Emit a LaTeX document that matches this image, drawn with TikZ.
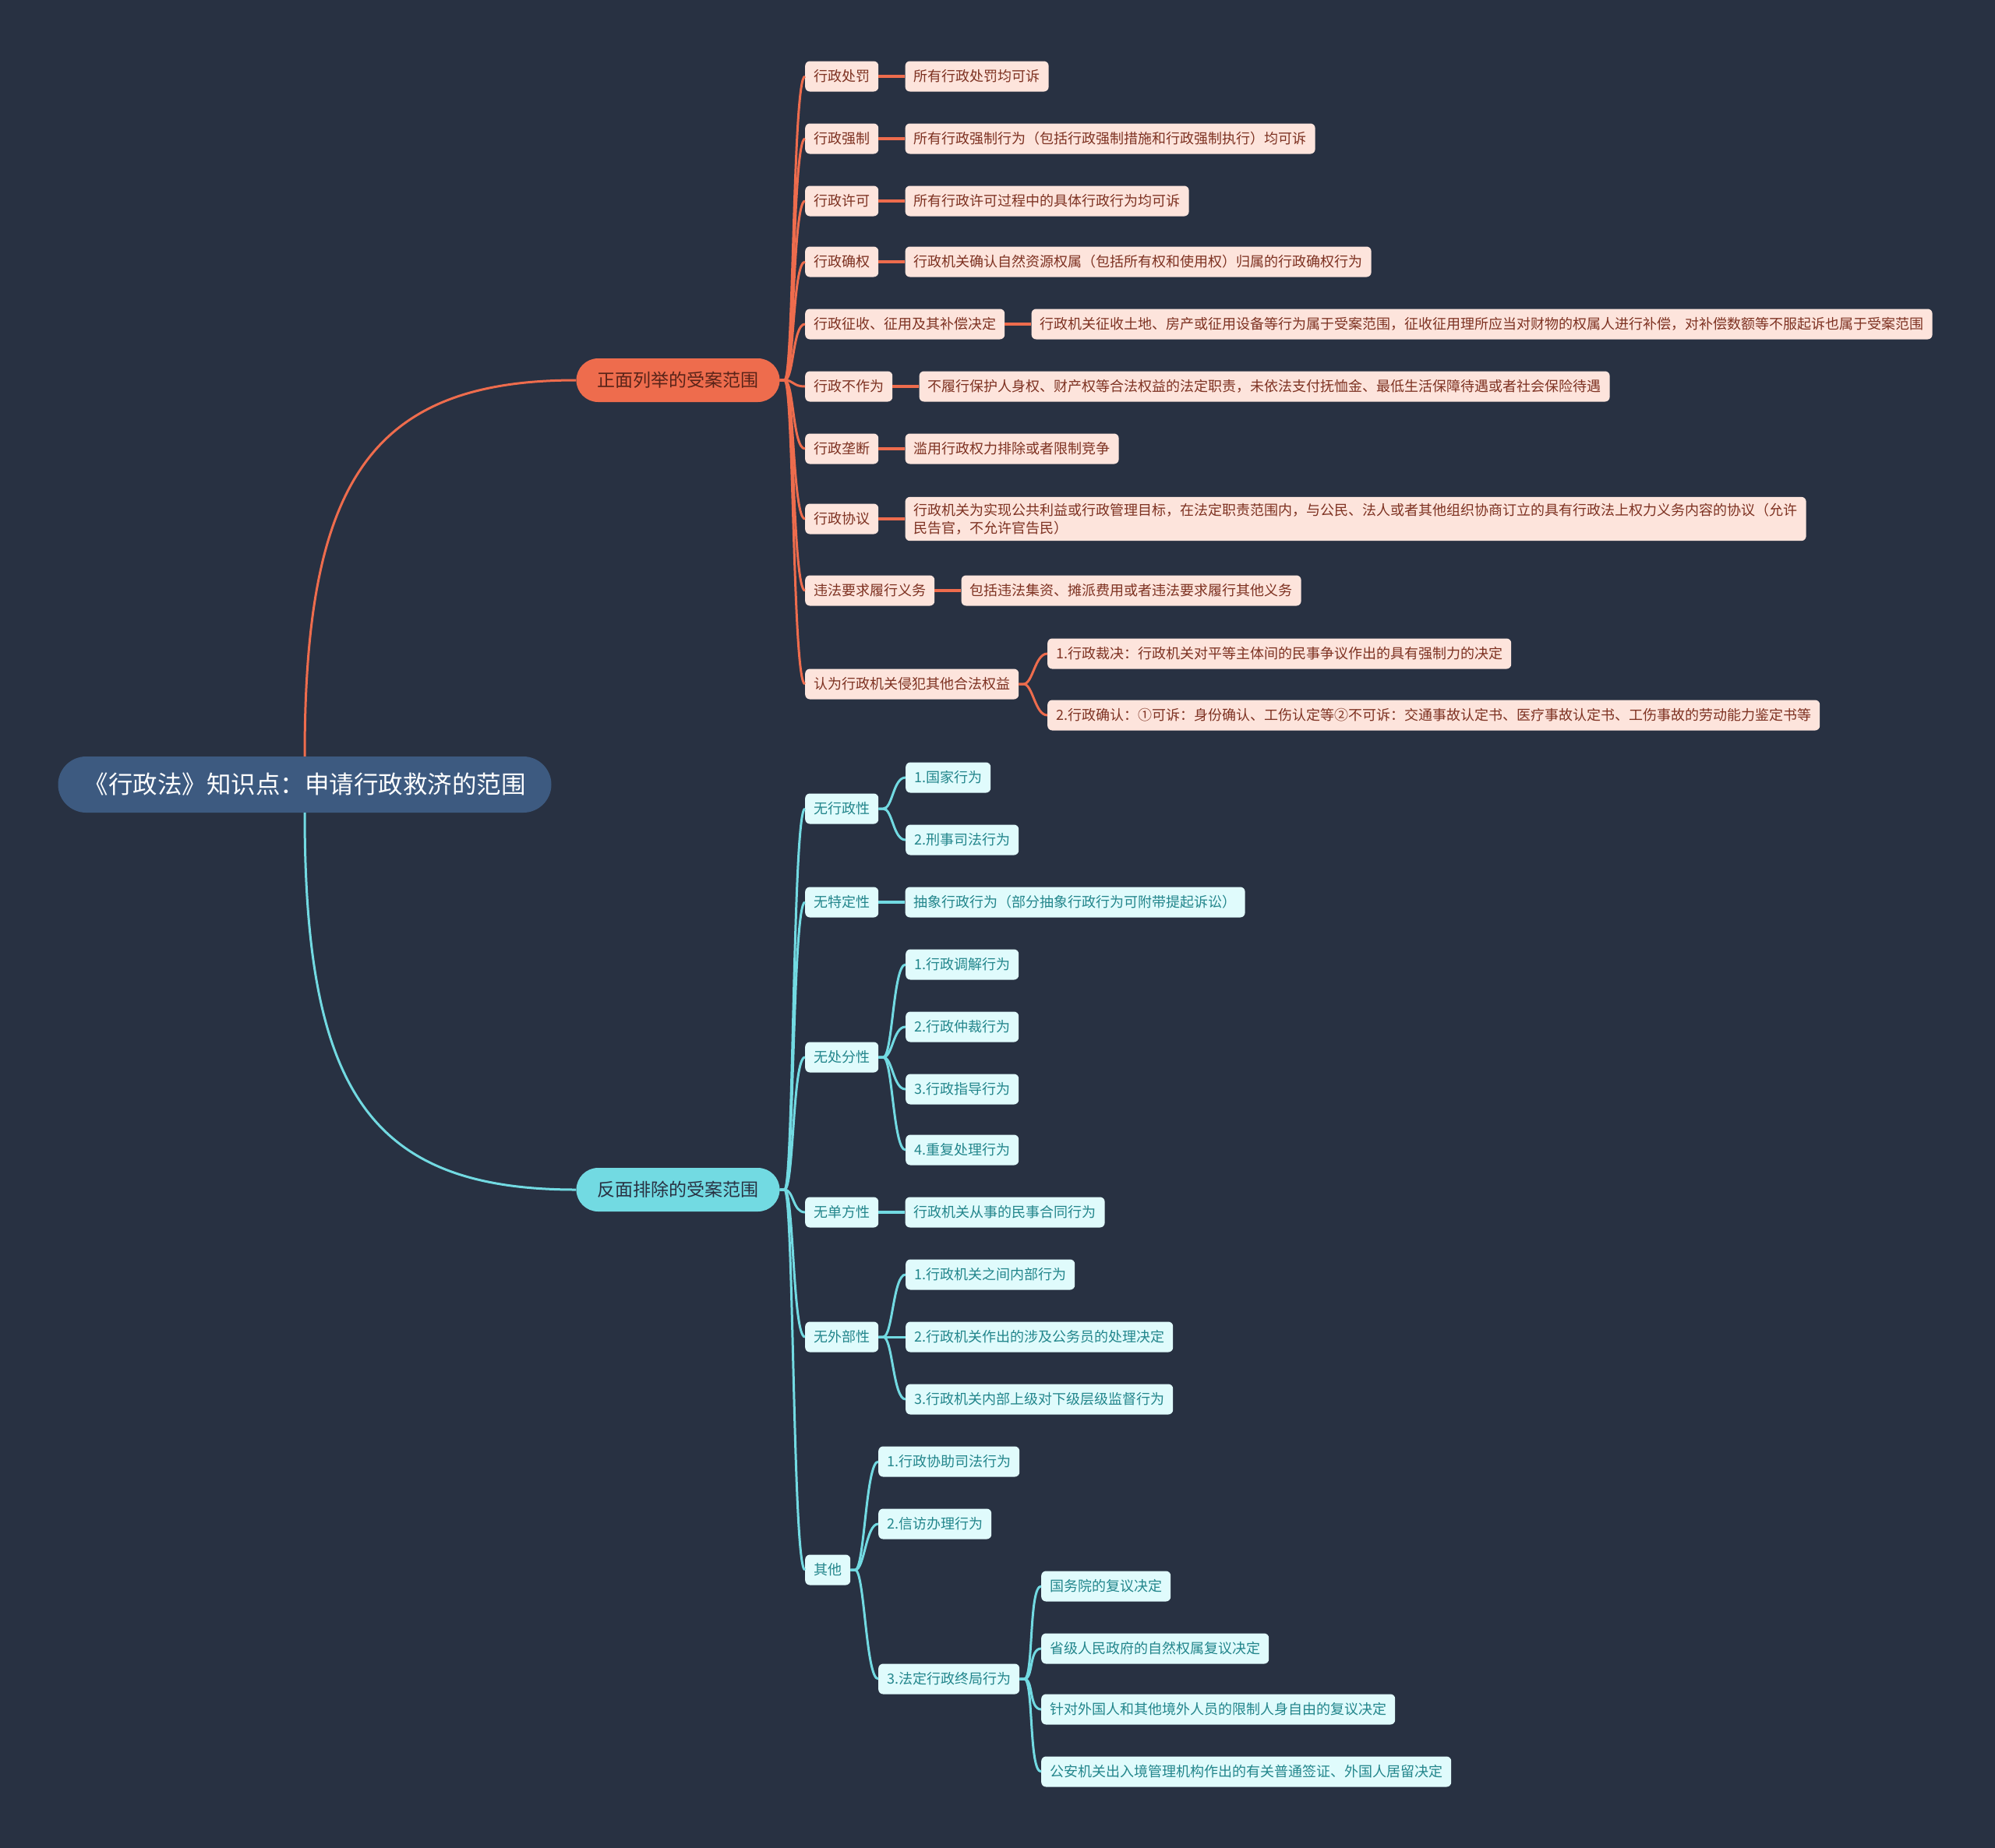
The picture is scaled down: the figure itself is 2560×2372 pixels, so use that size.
\documentclass[tikz,border=0pt]{standalone}
\usepackage{fontspec}
\setmainfont{Noto Sans CJK SC}
\usetikzlibrary{positioning}
\definecolor{bgnavy}{HTML}{283142}
\definecolor{rootblue}{HTML}{3D5A80}
\definecolor{posred}{HTML}{EE6C4D}
\definecolor{pospale}{HTML}{FDE4DC}
\definecolor{postext}{HTML}{7E3222}
\definecolor{negcyan}{HTML}{72DAE2}
\definecolor{negpale}{HTML}{E0FBFC}
\definecolor{negtext}{HTML}{23868C}

\tikzset{
  card/.style={rounded corners=6pt, minimum height=39pt, inner xsep=11pt, inner ysep=8pt,
    anchor=west, font=\fontsize{18pt}{23pt}\selectfont},
  itemp/.style={card, fill=pospale, text=postext},
  itemn/.style={card, fill=negpale, text=negtext},
  elbow/.style={to path={(\tikztostart) -- ++(6,0) .. controls +(12,0) and ([xshift=-16pt]\tikztotarget) .. (\tikztotarget)}},
  linkp/.style={draw=posred, line width=3pt, elbow},
  linkn/.style={draw=negcyan, line width=3pt, elbow},
  thick link/.style={line width=4pt}
}

\begin{document}
\begin{tikzpicture}[x=1pt, y=-1pt]
    \fill[bgnavy] (0,0) rectangle (2560,2372);

    % Root & main branches
    \node[fill=rootblue, text=white, rounded corners=36pt, minimum height=72pt, inner xsep=33pt,
      font=\fontsize{31.5pt}{36pt}\selectfont] (root) at (391,1007) {《行政法》知识点：申请行政救济的范围};
    \node[fill=posred, text=postext!70!black, rounded corners=28pt, minimum height=56pt, inner xsep=27pt,
      font=\fontsize{23pt}{28pt}\selectfont] (b1) at (870,488) {正面列举的受案范围};
    \node[fill=negcyan, text=bgnavy, rounded corners=28pt, minimum height=56pt, inner xsep=27pt,
      font=\fontsize{23pt}{28pt}\selectfont] (b2) at (870,1527) {反面排除的受案范围};

    \draw[posred, line width=3pt] (root.north) .. controls +(0,-351) and +(-265,0) .. (b1.west);
    \draw[negcyan, line width=3pt] (root.south) .. controls +(0,357) and +(-265,0) .. (b2.west);

    % Positive list
    \node[itemp] (p1) at (1033,98) {行政处罚};
    \node[itemp, right=34pt of p1] (p1d) {所有行政处罚均可诉};
    \node[itemp] (p2) at (1033,178) {行政强制};
    \node[itemp, right=34pt of p2] (p2d) {所有行政强制行为（包括行政强制措施和行政强制执行）均可诉};
    \node[itemp] (p3) at (1033,258) {行政许可};
    \node[itemp, right=34pt of p3] (p3d) {所有行政许可过程中的具体行政行为均可诉};
    \node[itemp] (p4) at (1033,336) {行政确权};
    \node[itemp, right=34pt of p4] (p4d) {行政机关确认自然资源权属（包括所有权和使用权）归属的行政确权行为};
    \node[itemp] (p5) at (1033,416) {行政征收、征用及其补偿决定};
    \node[itemp, right=34pt of p5] (p5d) {行政机关征收土地、房产或征用设备等行为属于受案范围，征收征用理所应当对财物的权属人进行补偿，对补偿数额等不服起诉也属于受案范围};
    \node[itemp] (p6) at (1033,496) {行政不作为};
    \node[itemp, right=34pt of p6] (p6d) {不履行保护人身权、财产权等合法权益的法定职责，未依法支付抚恤金、最低生活保障待遇或者社会保险待遇};
    \node[itemp] (p7) at (1033,576) {行政垄断};
    \node[itemp, right=34pt of p7] (p7d) {滥用行政权力排除或者限制竞争};
    \node[itemp] (p8) at (1033,666) {行政协议};
    \node[itemp, right=34pt of p8, align=left] (p8d) {行政机关为实现公共利益或行政管理目标，在法定职责范围内，与公民、法人或者其他组织协商订立的具有行政法上权力义务内容的协议（允许\\民告官，不允许官告民）};
    \node[itemp] (p9) at (1033,758) {违法要求履行义务};
    \node[itemp, right=34pt of p9] (p9d) {包括违法集资、摊派费用或者违法要求履行其他义务};
    \node[itemp] (p10) at (1033,878) {认为行政机关侵犯其他合法权益};
    \node[itemp] (p10a) at (1344,839) {1.行政裁决：行政机关对平等主体间的民事争议作出的具有强制力的决定};
    \node[itemp] (p10b) at (1344,918) {2.行政确认：①可诉：身份确认、工伤认定等②不可诉：交通事故认定书、医疗事故认定书、工伤事故的劳动能力鉴定书等};

    \foreach \c in {p1,p2,p3,p4,p5,p6,p7,p8,p9,p10}
      \draw[linkp] (b1.east) to (\c.west);
    \foreach \c in {p1,p2,p3,p4,p5,p6,p7,p8,p9}
      \draw[linkp, thick link] (\c.east) to (\c d.west);
    \draw[linkp] (p10.east) to (p10a.west);
    \draw[linkp] (p10.east) to (p10b.west);

    % Negative list
    \node[itemn] (n1) at (1033,1038) {无行政性};
    \node[itemn] (n1a) at (1162,998) {1.国家行为};
    \node[itemn] (n1b) at (1162,1078) {2.刑事司法行为};
    \node[itemn] (n2) at (1033,1158) {无特定性};
    \node[itemn, right=34pt of n2] (n2d) {抽象行政行为（部分抽象行政行为可附带提起诉讼）};
    \node[itemn] (n3) at (1033,1357) {无处分性};
    \node[itemn] (n3a) at (1162,1238) {1.行政调解行为};
    \node[itemn] (n3b) at (1162,1318) {2.行政仲裁行为};
    \node[itemn] (n3c) at (1162,1398) {3.行政指导行为};
    \node[itemn] (n3d) at (1162,1476) {4.重复处理行为};
    \node[itemn] (n4) at (1033,1556) {无单方性};
    \node[itemn, right=34pt of n4] (n4d) {行政机关从事的民事合同行为};
    \node[itemn] (n5) at (1033,1716) {无外部性};
    \node[itemn] (n5a) at (1162,1636) {1.行政机关之间内部行为};
    \node[itemn] (n5b) at (1162,1716) {2.行政机关作出的涉及公务员的处理决定};
    \node[itemn] (n5c) at (1162,1796) {3.行政机关内部上级对下级层级监督行为};
    \node[itemn] (n6) at (1033,2015) {其他};
    \node[itemn] (n6a) at (1127,1876) {1.行政协助司法行为};
    \node[itemn] (n6b) at (1127,1956) {2.信访办理行为};
    \node[itemn] (n6c) at (1127,2155) {3.法定行政终局行为};
    \node[itemn] (n6c1) at (1336,2036) {国务院的复议决定};
    \node[itemn] (n6c2) at (1336,2116) {省级人民政府的自然权属复议决定};
    \node[itemn] (n6c3) at (1336,2194) {针对外国人和其他境外人员的限制人身自由的复议决定};
    \node[itemn] (n6c4) at (1336,2274) {公安机关出入境管理机构作出的有关普通签证、外国人居留决定};

    \foreach \c in {n1,n2,n3,n4,n5,n6}
      \draw[linkn] (b2.east) to (\c.west);
    \foreach \c in {n2,n4}
      \draw[linkn, thick link] (\c.east) to (\c d.west);
    \foreach \p/\c in {n1/n1a, n1/n1b, n3/n3a, n3/n3b, n3/n3c, n3/n3d,
        n5/n5a, n5/n5b, n5/n5c, n6/n6a, n6/n6b, n6/n6c, n6c/n6c1, n6c/n6c2, n6c/n6c3, n6c/n6c4}
      \draw[linkn] (\p.east) to (\c.west);
\end{tikzpicture}
\end{document}
